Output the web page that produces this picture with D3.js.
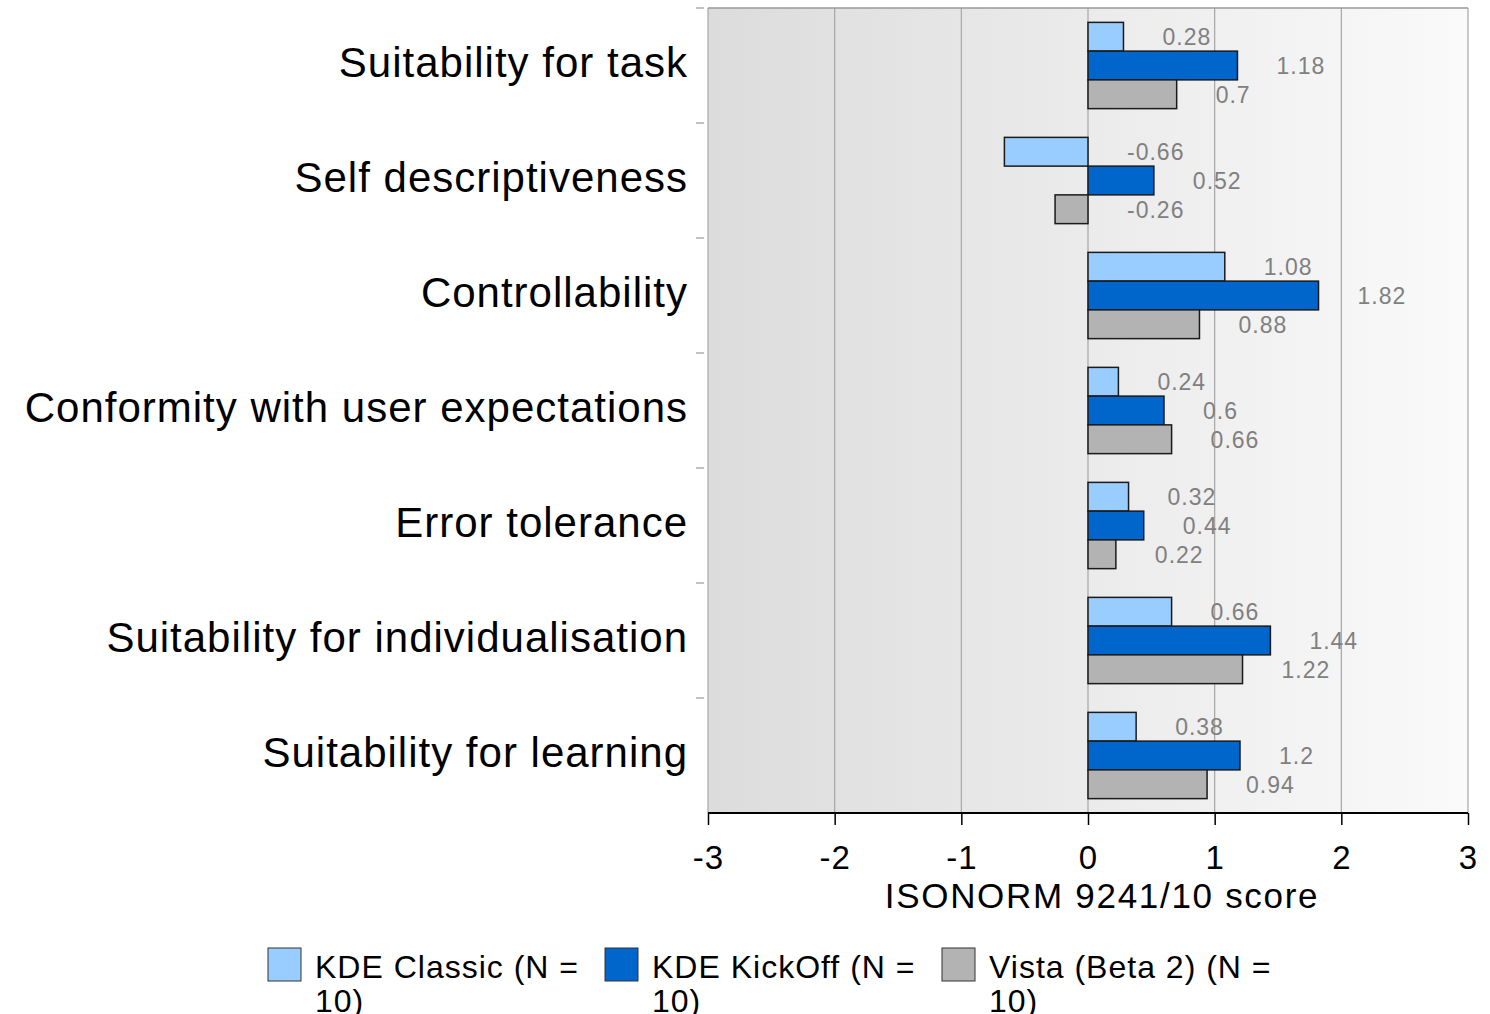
<!DOCTYPE html>
<html>
<head>
<meta charset="utf-8">
<script src="https://cdn.jsdelivr.net/npm/d3@7"></script>
<style>
  body { margin: 0; background: #fff; }
  svg { font-family: "Liberation Sans", Arial, sans-serif; }
</style>
</head>
<body>
<svg id="chart" width="1490" height="1014"></svg>
<script>
// data
const categories = [
	"Suitability for task",
	"Self descriptiveness",
	"Controllability",
	"Conformity with user expectations",
	"Error tolerance",
	"Suitability for individualisation",
	"Suitability for learning"
];
const seriesNames = ["KDE Classic (N = 10)", "KDE KickOff (N = 10)", "Vista (Beta 2) (N = 10)"];
const kdeClassic = [0.28, -0.66, 1.08, 0.24, 0.32, 0.66, 0.38];
const kdeKickoff = [1.18, 0.52, 1.82, 0.6, 0.44, 1.44, 1.2];
const vista = [0.7, -0.26, 0.88, 0.66, 0.22, 1.22, 0.94];
const xTicks = [-3, -2, -1, 0, 1, 2, 3];

const colors = ["#99ccff", "#0066cc", "#b3b3b3"];
const seriesValues = [kdeClassic, kdeKickoff, vista];

function drawChart() {
	let svg = d3.select('#chart');
	let pLeft = 708, pRight = 1468, pTop = 8, pBottom = 813;

	let x = d3.scaleLinear().domain([-3, 3]).range([pLeft, pRight]);
	let y = d3.scaleBand().domain(categories).range([pTop, pBottom]).paddingInner(0.25).paddingOuter(0.125);
	let ySub = d3.scaleBand().domain(d3.range(seriesNames.length)).range([0, y.bandwidth()]);
	let yOuter = d3.scaleBand().domain(categories).range([pTop, pBottom]);

	// background gradient
	let defs = svg.append('defs');
	let grad = defs.append('linearGradient').attr('id', 'bg').attr('x1', 0).attr('x2', 1).attr('y1', 0).attr('y2', 0);
	grad.append('stop').attr('offset', 0).attr('stop-color', '#dcdcdc');
	grad.append('stop').attr('offset', 1).attr('stop-color', '#fafafa');

	svg.append('rect')
		.attr('x', pLeft).attr('y', pTop)
		.attr('width', pRight - pLeft).attr('height', pBottom - pTop)
		.style('fill', 'url(#bg)');

	// vertical grid
	svg.append('g').selectAll('line')
		.data(xTicks)
		.enter()
		.append('line')
		.attr('x1', d => x(d)).attr('x2', d => x(d))
		.attr('y1', pTop).attr('y2', pBottom)
		.style('stroke', '#a6a6a6')
		.style('stroke-width', 1.2);

	// top border
	svg.append('line')
		.attr('x1', pLeft).attr('x2', pRight).attr('y1', pTop).attr('y2', pTop)
		.style('stroke', '#999').style('stroke-width', 1.5);

	// left category ticks
	svg.append('g').selectAll('line')
		.data(categories)
		.enter()
		.append('line')
		.attr('x1', pLeft - 12).attr('x2', pLeft - 4)
		.attr('y1', d => yOuter(d)).attr('y2', d => yOuter(d))
		.style('stroke', '#999').style('stroke-width', 1.2);

	// bars
	let groups = svg.append('g').selectAll('g')
		.data(categories)
		.enter()
		.append('g')
		.attr('transform', d => `translate(0,${y(d)})`);

	groups.selectAll('rect')
		.data((d, i) => seriesValues.map((s, j) => ({ series: j, value: s[i] })))
		.enter()
		.append('rect')
		.attr('x', d => x(Math.min(0, d.value)))
		.attr('y', d => ySub(d.series))
		.attr('width', d => Math.abs(x(d.value) - x(0)))
		.attr('height', ySub.bandwidth())
		.style('fill', d => colors[d.series])
		.style('stroke', '#1a1a1a')
		.style('stroke-width', 1.5);

	groups.selectAll('text')
		.data((d, i) => seriesValues.map((s, j) => ({ series: j, value: s[i] })))
		.enter()
		.append('text')
		.attr('x', d => x(Math.max(0, d.value)) + 39)
		.attr('y', d => ySub(d.series) + ySub.bandwidth() / 2)
		.attr('dy', '0.36em')
		.text(d => String(d.value))
		.style('font-size', '23px')
		.style('letter-spacing', '1px')
		.style('fill', '#808080');

	// category labels
	svg.append('g').selectAll('text')
		.data(categories)
		.enter()
		.append('text')
		.attr('x', 688)
		.attr('y', d => yOuter(d) + yOuter.bandwidth() / 2)
		.attr('dy', '0.28em')
		.attr('text-anchor', 'end')
		.text(d => d)
		.style('font-size', '42px')
		.style('letter-spacing', '1px')
		.style('fill', '#000');

	// bottom axis
	let xAxis = d3.axisBottom(x).tickValues(xTicks).tickSize(12).tickFormat(d3.format('d'));
	let axisG = svg.append('g')
		.attr('transform', `translate(0,${pBottom})`)
		.call(xAxis);
	axisG.select('.domain').attr('stroke', '#000').attr('stroke-width', 2).attr('d', `M${pLeft},0H${pRight}`);
	axisG.selectAll('.tick line').attr('stroke', '#000').attr('stroke-width', 1.5);
	axisG.selectAll('.tick text')
		.attr('y', 56)
		.attr('dy', 0)
		.style('font-size', '33px')
		.style('letter-spacing', '1px')
		.style('font-family', '"Liberation Sans", Arial, sans-serif')
		.style('fill', '#000')
		.text(d => d < 0 ? '-' + Math.abs(d) : d);

	svg.append('text')
		.attr('x', 1102)
		.attr('y', 908)
		.attr('text-anchor', 'middle')
		.text('ISONORM 9241/10 score')
		.style('font-size', '35px')
		.style('letter-spacing', '1.7px');

	// legend
	let legend = svg.append('g').attr('transform', 'translate(268,948)');
	let item = legend.selectAll('g')
		.data(seriesNames)
		.enter()
		.append('g')
		.attr('transform', (d, i) => `translate(${i * 337},0)`);

	item.append('rect')
		.attr('width', 33).attr('height', 33)
		.style('fill', (d, i) => colors[i])
		.style('stroke', '#333')
		.style('stroke-width', 1);

	let lt = item.append('text')
		.attr('x', 47)
		.attr('y', 30)
		.style('font-size', '32px')
		.style('letter-spacing', '1px');
	lt.append('tspan').attr('x', 47).text(d => d.replace(/ 10\)$/, ''));
	lt.append('tspan').attr('x', 47).attr('dy', 34).text('10)');
}

drawChart();
</script>
</body>
</html>
